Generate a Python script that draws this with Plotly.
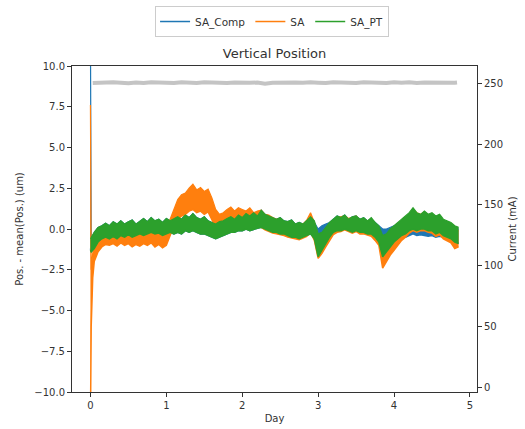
import plotly.graph_objects as go

# ---- data ----
days = [0.00, 0.01, 0.03, 0.05, 0.10, 0.15, 0.20, 0.25, 0.30, 0.35,
        0.40, 0.45, 0.50, 0.55, 0.60, 0.65, 0.70, 0.75, 0.80, 0.85,
        0.90, 0.95, 1.00, 1.05, 1.10, 1.15, 1.20, 1.25, 1.30, 1.35,
        1.40, 1.45, 1.50, 1.55, 1.60, 1.65, 1.70, 1.75, 1.80, 1.85,
        1.90, 1.95, 2.00, 2.05, 2.10, 2.15, 2.20, 2.25, 2.30, 2.35,
        2.40, 2.45, 2.50, 2.55, 2.60, 2.65, 2.70, 2.75, 2.80, 2.85,
        2.90, 2.95, 3.00, 3.05, 3.10, 3.15, 3.20, 3.25, 3.30, 3.35,
        3.40, 3.45, 3.50, 3.55, 3.60, 3.65, 3.70, 3.75, 3.80, 3.85,
        3.90, 3.95, 4.00, 4.05, 4.10, 4.15, 4.20, 4.25, 4.30, 4.35,
        4.40, 4.45, 4.50, 4.55, 4.60, 4.65, 4.70, 4.75, 4.80, 4.85]

# SA_PT (green) band: upper / lower envelope of the noisy trace (um)
sa_pt_hi = [-0.6, -0.5, -0.4, -0.2, 0.1, 0.2, 0.35, 0.2, 0.45, 0.3,
            0.5, 0.3, 0.45, 0.55, 0.3, 0.5, 0.65, 0.45, 0.7, 0.5,
            0.6, 0.4, 0.65, 0.5, 0.6, 0.75, 0.6, 0.85, 0.7, 0.95,
            0.7, 0.6, 0.75, 0.5, 0.4, 0.3, 0.45, 0.5, 0.65, 0.75,
            0.6, 0.85, 0.7, 0.95, 0.8, 1.0, 0.8, 1.15, 0.9, 0.8,
            0.7, 0.6, 0.7, 0.5, 0.45, 0.55, 0.3, 0.4, 0.3, 0.5,
            0.75, 0.5, -0.3, -0.2, 0.1, 0.4, 0.6, 0.8, 0.7, 0.85,
            0.6, 0.75, 0.8, 0.6, 0.7, 0.5, 0.7, 0.4, 0.2, -0.4,
            -0.3, 0.0, 0.2, 0.4, 0.6, 0.8, 1.0, 1.3, 1.0, 0.9,
            1.1, 0.9, 1.0, 0.8, 0.9, 0.6, 0.5, 0.4, 0.2, 0.1]
sa_pt_lo = [-1.3, -1.4, -1.3, -1.2, -0.8, -0.6, -0.5, -0.6, -0.45, -0.6,
            -0.4, -0.5, -0.35, -0.5, -0.4, -0.3, -0.4, -0.3, -0.2, -0.3,
            -0.25, -0.4, -0.3, -0.2, -0.3, -0.2, -0.3, -0.1, -0.2, -0.1,
            -0.2, -0.3, -0.3, -0.4, -0.5, -0.6, -0.5, -0.4, -0.3, -0.2,
            -0.2, -0.1, -0.1, 0.0, -0.1, 0.0, 0.05, 0.1, 0.0, -0.1,
            -0.2, -0.2, -0.3, -0.3, -0.4, -0.5, -0.5, -0.6, -0.5, -0.4,
            -0.3, -0.6, -1.7, -1.3, -0.9, -0.5, -0.2, -0.1, -0.1, 0.0,
            -0.1, -0.2, -0.1, -0.2, -0.2, -0.3, -0.3, -0.5, -0.8, -1.7,
            -1.4, -1.1, -0.8, -0.6, -0.4, -0.3, -0.1, 0.0, -0.1, 0.0,
            0.0, -0.1, -0.1, -0.3, -0.2, -0.4, -0.5, -0.6, -0.8, -0.9]

# SA (orange) band
sa_hi = [7.6, -2.5, -1.5, -1.0, -0.6, -0.3, -0.2, -0.3, -0.1, -0.25,
         0.0, -0.2, -0.05, 0.05, -0.2, 0.0, 0.1, -0.1, 0.15, -0.05,
         0.05, -0.1, 0.0, 0.6, 1.3, 1.8, 2.1, 2.2, 2.5, 2.75,
         2.4, 2.55, 2.3, 2.45, 1.9, 1.2, 0.9, 1.0, 1.2, 1.35,
         1.1, 1.3, 1.2, 1.1, 1.3, 1.0, 1.1, 1.15, 0.9, 0.85,
         0.7, 0.6, 0.65, 0.45, 0.4, 0.5, 0.25, 0.35, 0.3, 0.55,
         1.0, 0.4, -0.4, -0.5, -0.1, 0.2, 0.5, 0.7, 0.75, 0.8,
         0.65, 0.7, 0.8, 0.55, 0.65, 0.45, 0.6, 0.2, 0.0, -0.8,
         -0.6, -0.3, -0.1, 0.1, 0.4, 0.7, 0.9, 1.2, 1.0, 0.9,
         1.05, 0.85, 0.9, 0.7, 0.75, 0.5, 0.35, 0.3, 0.05, -0.1]
sa_lo = [-12.0, -6.0, -3.0, -2.0, -1.4, -1.1, -0.95, -1.0, -0.9, -1.05,
         -0.85, -1.0, -0.9, -1.1, -0.95, -1.05, -0.9, -1.0, -0.85, -1.1,
         -0.95, -1.15, -1.0, -0.4, 0.2, 0.6, 0.8, 0.9, 1.1, 1.2,
         1.0, 1.1, 0.9, 1.05, 0.6, 0.1, -0.1, 0.1, 0.3, 0.4,
         0.3, 0.4, 0.3, 0.2, 0.25, 0.1, 0.15, 0.1, -0.05, -0.15,
         -0.25, -0.3, -0.35, -0.4, -0.5, -0.55, -0.6, -0.65, -0.55, -0.45,
         -0.2, -0.7, -1.8, -1.5, -1.1, -0.7, -0.35, -0.2, -0.15, -0.05,
         -0.15, -0.25, -0.15, -0.3, -0.3, -0.4, -0.45, -0.7, -1.0, -2.4,
         -2.0, -1.6, -1.3, -1.0, -0.7, -0.5, -0.25, -0.1, -0.2, -0.1,
         -0.1, -0.2, -0.25, -0.45, -0.35, -0.6, -0.75, -0.85, -1.2, -1.1]

# SA_Comp (blue) band
sa_comp_hi = [12.0, -0.5, -0.4, -0.2, 0.1, 0.2, 0.35, 0.2, 0.45, 0.3,
              0.5, 0.3, 0.45, 0.55, 0.3, 0.5, 0.65, 0.45, 0.7, 0.5,
              0.6, 0.4, 0.65, 0.5, 0.6, 0.75, 0.6, 0.85, 0.7, 0.95,
              0.7, 0.6, 0.75, 0.5, 0.4, 0.3, 0.45, 0.5, 0.65, 0.75,
              0.6, 0.85, 0.7, 0.95, 0.8, 1.0, 0.8, 1.15, 0.9, 0.8,
              0.7, 0.6, 0.7, 0.5, 0.45, 0.55, 0.3, 0.4, 0.3, 0.5,
              0.6, 0.4, 0.0, 0.2, 0.3, 0.4, 0.6, 0.8, 0.7, 0.85,
              0.6, 0.75, 0.8, 0.6, 0.7, 0.5, 0.6, 0.4, 0.2, 0.0,
              0.0, 0.1, 0.2, 0.3, 0.4, 0.5, 0.6, 0.8, 0.6, 0.5,
              0.6, 0.5, 0.55, 0.4, 0.45, 0.4, 0.35, 0.3, 0.1, 0.0]
sa_comp_lo = [-1.2, -1.4, -1.3, -1.2, -0.8, -0.6, -0.5, -0.6, -0.45, -0.6,
              -0.4, -0.5, -0.35, -0.5, -0.4, -0.3, -0.4, -0.3, -0.2, -0.3,
              -0.25, -0.4, -0.3, -0.2, -0.3, -0.2, -0.3, -0.1, -0.2, -0.1,
              -0.2, -0.3, -0.3, -0.4, -0.5, -0.6, -0.5, -0.4, -0.3, -0.2,
              -0.2, -0.1, -0.1, 0.0, -0.1, 0.0, 0.05, 0.1, 0.0, -0.1,
              -0.2, -0.2, -0.3, -0.3, -0.4, -0.5, -0.5, -0.6, -0.5, -0.4,
              -0.3, -0.5, -0.4, -0.6, -0.6, -0.5, -0.2, -0.1, -0.1, 0.0,
              -0.1, -0.2, -0.1, -0.2, -0.2, -0.3, -0.3, -0.5, -0.6, -0.7,
              -0.8, -0.7, -0.6, -0.5, -0.5, -0.5, -0.4, -0.3, -0.4, -0.35,
              -0.4, -0.45, -0.4, -0.5, -0.45, -0.5, -0.55, -0.6, -0.8, -0.85]

# Beam current (mA), right axis
cur_days = [0.03, 0.1, 0.2, 0.3, 0.4, 0.5, 0.6, 0.7, 0.8, 0.9,
            1.0, 1.1, 1.2, 1.3, 1.4, 1.5, 1.6, 1.7, 1.8, 1.9,
            2.0, 2.1, 2.2, 2.3, 2.4, 2.5, 2.6, 2.7, 2.8, 2.9,
            3.0, 3.1, 3.2, 3.3, 3.4, 3.5, 3.6, 3.7, 3.8, 3.9,
            4.0, 4.1, 4.2, 4.3, 4.4, 4.5, 4.6, 4.7, 4.8, 4.83]
current = [250.2, 250.6, 250.4, 250.9, 250.5, 250.1, 250.7, 250.3, 250.8, 250.4,
           250.6, 250.2, 250.9, 250.5, 250.3, 250.8, 250.4, 250.7, 250.2, 250.6,
           250.9, 250.4, 250.6, 249.6, 250.5, 250.8, 250.3, 250.7, 250.4, 250.9,
           250.5, 250.2, 250.8, 250.4, 250.7, 250.3, 250.9, 250.5, 250.6, 250.2,
           250.8, 250.4, 250.9, 250.3, 250.7, 250.5, 250.2, 250.8, 250.4, 250.6]

left_ticks = [-10.0, -7.5, -5.0, -2.5, 0.0, 2.5, 5.0, 7.5, 10.0]
right_ticks = [0, 50, 100, 150, 200, 250]
x_ticks = [0, 1, 2, 3, 4, 5]

series = [("SA_Comp", "#1f77b4", sa_comp_hi, sa_comp_lo),
          ("SA", "#ff7f0e", sa_hi, sa_lo),
          ("SA_PT", "#2ca02c", sa_pt_hi, sa_pt_lo)]

FONT = "DejaVu Sans"
TXT = "#333333"

fig = go.Figure()
fig.add_trace(go.Scatter(x=cur_days, y=current, yaxis="y2", mode="lines",
                         line=dict(color="#c4c4c4", width=4),
                         showlegend=False, hoverinfo="skip"))
for name, color, hi, lo in series:
    fig.add_trace(go.Scatter(x=days, y=lo, mode="lines", name=name,
                             legendgroup=name,
                             line=dict(color=color, width=1.5)))
    fig.add_trace(go.Scatter(x=days, y=hi, mode="lines", name=name,
                             legendgroup=name, showlegend=False,
                             line=dict(color=color, width=1.2),
                             fill="tonexty", fillcolor=color))

axis_common = dict(showgrid=False, zeroline=False, showline=True,
                   linecolor=TXT, linewidth=1, ticks="outside", ticklen=4,
                   tickcolor=TXT, automargin=False,
                   tickfont=dict(family=FONT, size=10, color=TXT))

fig.update_layout(
    width=525, height=429,
    margin=dict(l=72, r=48, t=66, b=37, autoexpand=False),
    paper_bgcolor="white", plot_bgcolor="white",
    font=dict(family=FONT, color=TXT, size=10),
    title=dict(text="Vertical Position", x=0.5, xref="paper",
               y=1 - 53 / 429, yref="container", xanchor="center", yanchor="middle",
               font=dict(family=FONT, size=13, color=TXT)),
    xaxis=dict(range=[-0.243, 5.093], tickvals=x_ticks, mirror=True,
               title=dict(text="Day", standoff=4,
                          font=dict(family=FONT, size=10, color=TXT)),
               **axis_common),
    yaxis=dict(range=[-10, 10], tickvals=left_ticks, tickformat=".1f", mirror=True,
               title=dict(text="Pos. - mean(Pos.) (um)", standoff=8,
                          font=dict(family=FONT, size=10, color=TXT)),
               **axis_common),
    yaxis2=dict(range=[-3.9, 264.2], tickvals=right_ticks, overlaying="y",
                side="right",
                title=dict(text="Current (mA)", standoff=6,
                           font=dict(family=FONT, size=10, color=TXT)),
                **axis_common),
    legend=dict(orientation="h", x=0.494, xanchor="center", y=1.184,
                yanchor="top", bordercolor="#cccccc", borderwidth=1,
                font=dict(family=FONT, size=10.5, color=TXT),
                bgcolor="white"),
)

fig.write_html("out.html")
